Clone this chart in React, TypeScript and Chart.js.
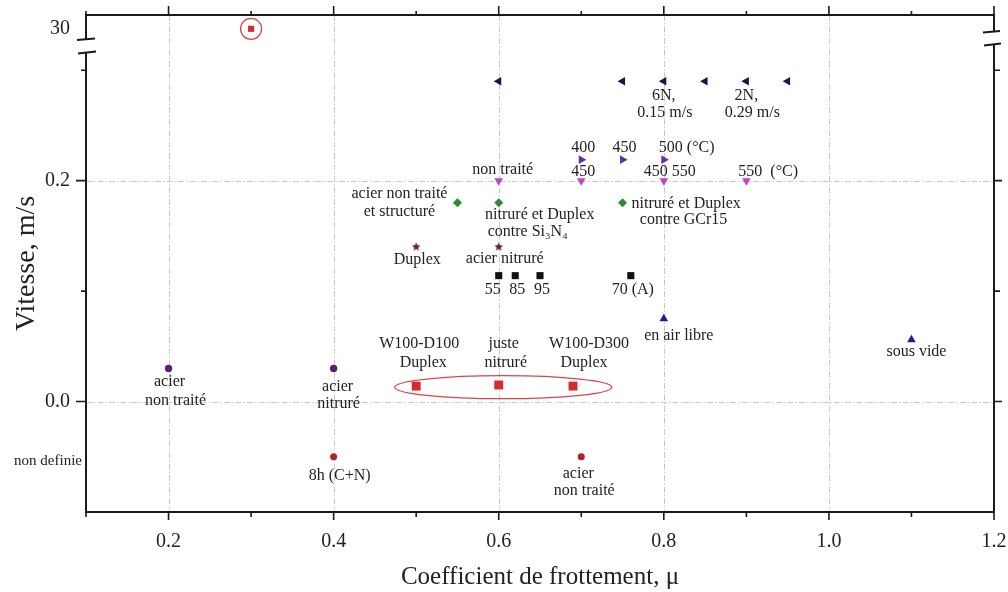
import React, { useEffect, useRef } from 'react';
import { Chart, registerables } from 'chart.js';

Chart.register(...registerables);

const FONT = "'Liberation Serif', 'Times New Roman', serif";

// ---- axes ----
const X_TICKS = [0.2, 0.4, 0.6, 0.8, 1.0, 1.2];
const X_MINOR = [0.1, 0.3, 0.5, 0.7, 0.9, 1.1];
const X_GRID = [0.2, 0.4, 0.6, 0.8, 1.0];
const Y_TICKS = [0, 0.2, 30];
const Y_TICK_LABELS = ['0.0', '0.2', '30'];
const Y_MINOR = [0.1, 0.3];
const Y_GRID = [0, 0.2];
const Y_UNDEFINED = -0.05; // row "non definie"

// ---- series (x = coefficient de frottement, y = vitesse m/s) ----
const CIRCLED_X = [0.3];
const CIRCLED_Y = [30];
const NAVY_X = [0.6, 0.75, 0.8, 0.85, 0.9, 0.95];
const NAVY_Y = [0.29, 0.29, 0.29, 0.29, 0.29, 0.29];
const TEMP_X = [0.7, 0.75, 0.8];
const TEMP_Y = [0.219, 0.219, 0.219];
const MAGENTA_X = [0.6, 0.7, 0.8, 0.9];
const MAGENTA_Y = [0.2, 0.2, 0.2, 0.2];
const GREEN_X = [0.55, 0.6, 0.75];
const GREEN_Y = [0.18, 0.18, 0.18];
const STAR_X = [0.5, 0.6];
const STAR_Y = [0.14, 0.14];
const BLACK_X = [0.6, 0.62, 0.65, 0.76];
const BLACK_Y = [0.114, 0.114, 0.114, 0.114];
const BLUE_X = [0.8, 1.1];
const BLUE_Y = [0.075, 0.056];
const PURPLE_X = [0.2, 0.4];
const PURPLE_Y = [0.03, 0.03];
const RED_X = [0.5, 0.6, 0.69];
const RED_Y = [0.014, 0.015, 0.014];
const DARKRED_X = [0.4, 0.7];
const DARKRED_Y = [Y_UNDEFINED, Y_UNDEFINED];

// ellipse enclosing the red squares (data coords)
const ELLIPSE_X = [0.474, 0.737];
const ELLIPSE_Y = 0.013;

// annotation texts: [text, anchorX, anchorY, dx, dy, align]
const LABELS: [string, number, number, number, number, CanvasTextAlign?][] = [
  ['6N,', 0.8, 0.29, 0, 15],
  ['0.15 m/s', 0.8, 0.29, 1, 32],
  ['2N,', 0.9, 0.29, 0, 15],
  ['0.29 m/s', 0.9, 0.29, 6, 32],
  ['400', 0.7, 0.219, 2, -12],
  ['450', 0.75, 0.219, 2, -12],
  ['500 (°C)', 0.8, 0.219, -5, -12, 'left'],
  ['non traité', 0.6, 0.2, 4, -11],
  ['450', 0.7, 0.2, 2, -9],
  ['450 550', 0.8, 0.2, -20, -9, 'left'],
  ['550  (°C)', 0.9, 0.2, -8, -9, 'left'],
  ['acier non traité', 0.55, 0.18, -10, -9, 'right'],
  ['et structuré', 0.55, 0.18, -58, 9],
  ['nitruré et Duplex', 0.6, 0.18, 41, 12],
  ['contre Si₃N₄', 0.6, 0.18, 29, 29],
  ['nitruré et Duplex', 0.75, 0.18, 9, 1, 'left'],
  ['contre GCr15', 0.75, 0.18, 61, 17],
  ['Duplex', 0.5, 0.14, 1, 13],
  ['acier nitruré', 0.6, 0.14, 6, 12],
  ['55', 0.6, 0.114, -6, 14],
  ['85', 0.62, 0.114, 2, 14],
  ['95', 0.65, 0.114, 2, 14],
  ['70 (A)', 0.76, 0.114, 2, 14],
  ['en air libre', 0.8, 0.075, 15, 17],
  ['sous vide', 1.1, 0.056, 5, 12],
  ['acier', 0.2, 0.03, 1, 13],
  ['non traité', 0.2, 0.03, 7, 32],
  ['acier', 0.4, 0.03, 4, 18],
  ['nitruré', 0.4, 0.03, 5, 35],
  ['W100-D100', 0.5, 0.014, 3, -42],
  ['Duplex', 0.5, 0.014, 7, -23],
  ['juste', 0.6, 0.015, 5, -41],
  ['nitruré', 0.6, 0.015, 7, -22],
  ['W100-D300', 0.69, 0.014, 16, -42],
  ['Duplex', 0.69, 0.014, 11, -23],
  ['8h (C+N)', 0.4, Y_UNDEFINED, 6, 19],
  ['acier', 0.7, Y_UNDEFINED, -3, 17],
  ['non traité', 0.7, Y_UNDEFINED, 3, 34],
];

// broken y axis: values near 30 are shown in the top strip
function toAxis(v: number): number {
  return v > 1 ? 0.3375 + (v - 30) * 0.05 : v;
}

function pts(xs: number[], ys: number[]) {
  return xs.map((x, i) => ({ x, y: toAxis(ys[i]) }));
}

function makeStar(color: string, r: number): HTMLCanvasElement {
  const s = Math.ceil(r * 2 + 2);
  const c = document.createElement('canvas');
  c.width = s;
  c.height = s;
  const g = c.getContext('2d')!;
  g.fillStyle = color;
  g.beginPath();
  for (let i = 0; i < 10; i++) {
    const rr = i % 2 === 0 ? r : r * 0.45;
    const a = -Math.PI / 2 + (i * Math.PI) / 5;
    g.lineTo(s / 2 + rr * Math.cos(a), s / 2 + rr * Math.sin(a));
  }
  g.closePath();
  g.fill();
  return c;
}

function noPad(s: any) {
  s.paddingTop = 0;
  s.paddingBottom = 0;
  s.paddingLeft = 0;
  s.paddingRight = 0;
}

const decorPlugin = {
  id: 'decor',
  beforeDatasetsDraw(chart: any) {
    const { ctx, chartArea: a, scales } = chart;
    const xs = scales.x;
    const ys = scales.y;
    ctx.save();
    ctx.strokeStyle = '#c9c9c9';
    ctx.lineWidth = 1;
    ctx.setLineDash([6, 2, 1.5, 2]);
    X_GRID.forEach((v) => {
      const px = Math.round(xs.getPixelForValue(v)) + 0.5;
      ctx.beginPath();
      ctx.moveTo(px, a.top);
      ctx.lineTo(px, a.bottom);
      ctx.stroke();
    });
    Y_GRID.forEach((v) => {
      const py = Math.round(ys.getPixelForValue(v)) + 0.5;
      ctx.beginPath();
      ctx.moveTo(a.left, py);
      ctx.lineTo(a.right, py);
      ctx.stroke();
    });
    ctx.restore();
  },
  afterDatasetsDraw(chart: any) {
    const { ctx, chartArea: a, scales } = chart;
    const xs = scales.x;
    const ys = scales.y;
    ctx.save();
    // red ellipse + circle
    ctx.strokeStyle = '#d9454a';
    ctx.lineWidth = 1.3;
    const ex0 = xs.getPixelForValue(ELLIPSE_X[0]);
    const ex1 = xs.getPixelForValue(ELLIPSE_X[1]);
    const ey = ys.getPixelForValue(ELLIPSE_Y);
    ctx.beginPath();
    ctx.ellipse((ex0 + ex1) / 2, ey, (ex1 - ex0) / 2, 11.5, 0, 0, Math.PI * 2);
    ctx.stroke();
    ctx.beginPath();
    ctx.arc(xs.getPixelForValue(CIRCLED_X[0]), ys.getPixelForValue(toAxis(CIRCLED_Y[0])), 10.5, 0, Math.PI * 2);
    ctx.stroke();

    // frame
    ctx.strokeStyle = '#1a1a1a';
    ctx.lineWidth = 2;
    const L = a.left, R = a.right, T = a.top, B = a.bottom;
    ctx.beginPath();
    ctx.moveTo(L - 1, T); ctx.lineTo(R + 1, T);
    ctx.moveTo(L - 1, B); ctx.lineTo(R + 1, B);
    ctx.moveTo(L, T); ctx.lineTo(L, 39);
    ctx.moveTo(L, 52); ctx.lineTo(L, B);
    ctx.moveTo(R, T); ctx.lineTo(R, 32);
    ctx.moveTo(R, 45); ctx.lineTo(R, B);
    ctx.stroke();
    // break marks
    ctx.lineWidth = 1.8;
    ctx.beginPath();
    ctx.moveTo(L - 9, 40); ctx.lineTo(L + 9, 38.5);
    ctx.moveTo(L - 8, 53.5); ctx.lineTo(L + 10, 51.5);
    ctx.moveTo(R - 11, 32.5); ctx.lineTo(R + 6, 31);
    ctx.moveTo(R - 10, 45.5); ctx.lineTo(R + 7, 43.5);
    ctx.stroke();

    // ticks
    ctx.lineWidth = 1.6;
    ctx.beginPath();
    X_TICKS.forEach((v) => {
      const px = xs.getPixelForValue(v);
      ctx.moveTo(px, B); ctx.lineTo(px, B + 8);
      ctx.moveTo(px, T); ctx.lineTo(px, T - 9);
    });
    X_MINOR.forEach((v) => {
      const px = xs.getPixelForValue(v);
      ctx.moveTo(px, B); ctx.lineTo(px, B + 5);
      ctx.moveTo(px, T); ctx.lineTo(px, T - 4);
    });
    Y_GRID.forEach((v) => {
      const py = ys.getPixelForValue(v);
      ctx.moveTo(L, py); ctx.lineTo(L - 10, py);
      ctx.moveTo(R, py); ctx.lineTo(R + 8, py);
    });
    Y_MINOR.forEach((v) => {
      const py = ys.getPixelForValue(v);
      ctx.moveTo(L, py); ctx.lineTo(L - 5, py);
      ctx.moveTo(R, py); ctx.lineTo(R + 6, py);
    });
    ctx.stroke();

    // "non definie" category label
    ctx.fillStyle = '#222';
    ctx.font = `15px ${FONT}`;
    ctx.textAlign = 'right';
    ctx.textBaseline = 'middle';
    ctx.fillText('non definie', L - 4, ys.getPixelForValue(Y_UNDEFINED) + 4);

    // annotations
    ctx.font = `16px ${FONT}`;
    LABELS.forEach(([t, x, y, dx, dy, al]) => {
      ctx.textAlign = al || 'center';
      ctx.fillText(t, xs.getPixelForValue(x) + dx, ys.getPixelForValue(toAxis(y)) + dy);
    });
    ctx.restore();
  },
};

export default function App() {
  const ref = useRef<HTMLCanvasElement | null>(null);
  useEffect(() => {
    if (!ref.current) return;
    Chart.defaults.font.family = FONT;
    const star = makeStar('#6b1c24', 4.5);
    const chart = new Chart(ref.current, {
      type: 'scatter',
      data: {
        datasets: [
          { label: 'circled', data: pts(CIRCLED_X, CIRCLED_Y), pointStyle: 'rect', pointRadius: 4.3, backgroundColor: '#d42a30', borderColor: '#d42a30', borderWidth: 0 },
          { label: 'navy', data: pts(NAVY_X, NAVY_Y), pointStyle: 'triangle', pointRotation: -90, pointRadius: 5, backgroundColor: '#15164a', borderColor: '#15164a', borderWidth: 0 },
          { label: 'temp', data: pts(TEMP_X, TEMP_Y), pointStyle: 'triangle', pointRotation: 90, pointRadius: 5, backgroundColor: '#6a2ca3', borderColor: '#6a2ca3', borderWidth: 0 },
          { label: 'magenta', data: pts(MAGENTA_X, MAGENTA_Y), pointStyle: 'triangle', pointRotation: 180, pointRadius: 5, backgroundColor: '#c043cf', borderColor: '#c043cf', borderWidth: 0 },
          { label: 'green', data: pts(GREEN_X, GREEN_Y), pointStyle: 'rectRot', pointRadius: 4.5, backgroundColor: '#2f8a32', borderColor: '#2f8a32', borderWidth: 0 },
          { label: 'star', data: pts(STAR_X, STAR_Y), pointStyle: star, pointRadius: 5 },
          { label: 'black', data: pts(BLACK_X, BLACK_Y), pointStyle: 'rect', pointRadius: 5, backgroundColor: '#111', borderColor: '#111', borderWidth: 0 },
          { label: 'blue', data: pts(BLUE_X, BLUE_Y), pointStyle: 'triangle', pointRadius: 5, backgroundColor: '#1d1d9a', borderColor: '#1d1d9a', borderWidth: 0 },
          { label: 'purple', data: pts(PURPLE_X, PURPLE_Y), pointStyle: 'circle', pointRadius: 3.7, backgroundColor: '#5b1f6e', borderColor: '#5b1f6e', borderWidth: 0 },
          { label: 'red', data: pts(RED_X, RED_Y), pointStyle: 'rect', pointRadius: 6.3, backgroundColor: '#d42a30', borderColor: '#d42a30', borderWidth: 0 },
          { label: 'darkred', data: pts(DARKRED_X, DARKRED_Y), pointStyle: 'circle', pointRadius: 3.5, backgroundColor: '#b02424', borderColor: '#b02424', borderWidth: 0 },
        ] as any,
      },
      options: {
        animation: false,
        responsive: false,
        devicePixelRatio: 1,
        layout: { padding: { top: 15, right: 14, left: 0, bottom: 0 } },
        plugins: { legend: { display: false }, tooltip: { enabled: false } },
        scales: {
          x: {
            type: 'linear',
            position: 'bottom',
            min: 0.1,
            max: 1.2,
            afterBuildTicks: (s: any) => { s.ticks = X_TICKS.map((v) => ({ value: v })); },
            afterFit: (s: any) => { s.height = 80; noPad(s); },
            grid: { display: false, drawTicks: false },
            border: { display: false },
            ticks: {
              padding: 18,
              autoSkip: false,
              maxRotation: 0,
              color: '#222',
              font: { size: 20, family: FONT },
              callback: (v: any) => Number(v).toFixed(1),
            },
            title: { display: true, text: 'Coefficient de frottement, μ', color: '#222', font: { size: 25, family: FONT }, padding: { top: 0, bottom: 0 } },
          },
          y: {
            type: 'linear',
            min: -0.1,
            max: 0.35,
            afterBuildTicks: (s: any) => { s.ticks = Y_TICKS.map((v) => ({ value: toAxis(v) })); },
            afterFit: (s: any) => { s.width = 86; noPad(s); },
            grid: { display: false, drawTicks: false },
            border: { display: false },
            ticks: {
              padding: 16,
              autoSkip: false,
              color: '#222',
              font: { size: 20, family: FONT },
              callback: (_v: any, i: number) => Y_TICK_LABELS[i],
            },
            title: { display: true, text: 'Vitesse, m/s', color: '#222', font: { size: 28, family: FONT }, padding: { top: 10, bottom: 0 } },
          },
        },
      } as any,
      plugins: [decorPlugin],
    });
    return () => chart.destroy();
  }, []);
  return (
    <div style={{ position: 'absolute', left: 0, top: 0, width: 1008, height: 592, background: '#fff' }}>
      <canvas ref={ref} width={1008} height={592} />
    </div>
  );
}
